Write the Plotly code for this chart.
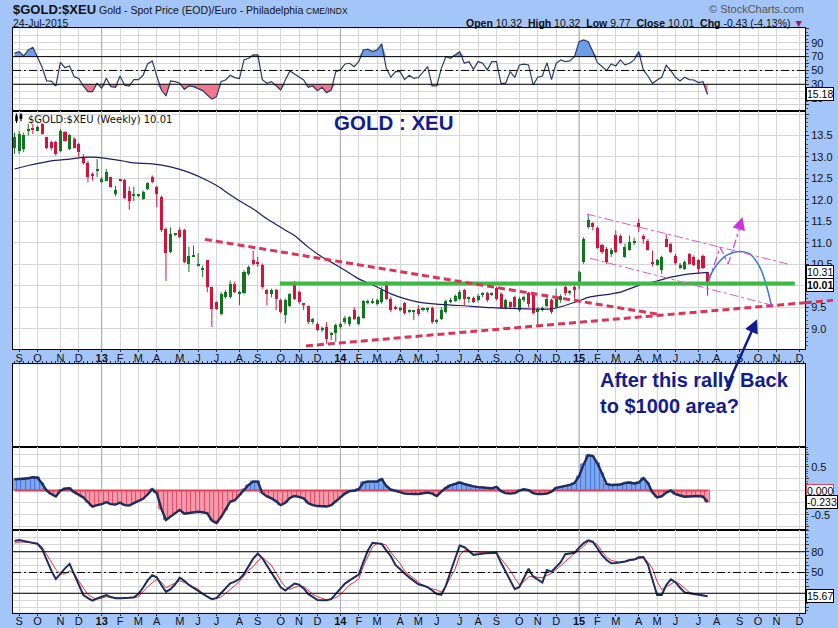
import pandas as pd
import plotly.graph_objects as go

# ---------------- data ----------------
open_ = [13.22,13.15,13.19,13.62,13.65,13.61,13.77,13.46,13.34,13.34,
13.15,13.57,13.19,13.42,13.30,12.99,12.87,12.57,12.68,12.41,
12.45,12.53,12.14,12.47,12.47,12.21,12.10,12.10,12.02,12.25,
12.54,12.29,12.06,11.33,10.78,11.20,11.30,11.29,10.51,10.69,
10.47,10.36,10.59,9.97,9.62,9.35,9.74,9.74,10.05,9.83,
9.83,10.28,10.59,10.55,10.49,9.89,9.80,9.89,9.66,9.31,
9.54,10.01,9.85,9.57,9.52,9.16,9.12,8.96,9.05,8.87,
8.90,9.03,9.16,9.12,9.43,9.12,9.26,9.60,9.62,9.58,
9.62,10.01,9.70,9.49,9.43,9.60,9.39,9.40,9.47,9.45,
9.45,9.49,9.17,9.23,9.39,9.62,9.65,9.70,9.91,9.70,
9.72,9.66,9.80,9.83,9.80,9.95,9.81,9.48,9.62,9.74,
9.43,9.66,9.83,9.81,9.39,9.43,9.54,9.66,9.50,9.66,
9.98,9.85,9.98,10.06,10.55,11.38,11.46,11.35,10.94,10.86,
10.73,11.19,11.15,10.67,10.84,11.00,11.45,11.15,11.05,10.53,
10.49,10.37,11.09,10.98,10.70,10.42,10.40,10.73,10.68,10.60,
10.70,10.32]
high = [13.57,13.61,13.57,13.77,13.77,13.73,13.79,13.47,13.38,13.38,
13.65,13.60,13.53,13.46,13.33,13.07,12.91,12.64,12.95,12.53,
12.72,12.54,12.33,12.49,12.49,12.31,12.31,12.14,12.22,12.41,
12.57,12.33,12.10,11.36,11.36,11.23,11.36,11.33,10.91,10.94,
10.76,10.47,10.60,9.98,9.63,9.85,9.90,10.12,10.10,9.89,
10.36,10.47,10.82,10.67,10.52,9.93,9.93,9.93,9.70,9.70,
9.83,10.11,9.89,9.60,9.54,9.25,9.15,9.05,9.15,8.92,
9.12,9.14,9.30,9.29,9.50,9.30,9.67,9.68,9.70,9.70,
9.98,10.11,9.74,9.54,9.51,9.62,9.45,9.43,9.55,9.50,
9.50,9.52,9.23,9.50,9.68,9.72,9.80,9.90,9.93,9.75,
9.75,9.81,9.85,9.86,9.85,9.98,9.85,9.70,9.64,9.77,
9.74,9.77,9.86,9.85,9.50,9.52,9.74,9.70,9.93,9.80,
10.01,9.90,10.03,10.35,11.13,11.66,11.48,11.38,10.98,10.90,
10.88,11.29,11.20,10.98,11.17,11.12,11.56,11.20,11.09,10.82,
10.63,10.70,11.20,11.00,10.74,10.53,10.59,10.76,10.71,10.63,
10.73,10.32]
low = [13.07,13.07,13.11,13.50,13.53,13.60,13.52,13.18,13.15,13.03,
13.11,13.36,13.16,13.20,12.99,12.82,12.41,12.45,12.53,12.39,
12.43,12.28,12.08,12.43,12.02,11.77,11.97,12.06,12.00,12.23,
12.39,11.83,11.25,10.11,10.76,11.16,11.11,10.53,10.32,10.67,
10.45,10.20,9.85,9.04,9.44,9.31,9.70,9.70,9.83,9.55,
9.80,10.24,10.47,10.44,9.93,9.54,9.73,9.43,9.35,9.13,
9.50,9.67,9.58,9.43,9.11,9.10,8.94,8.92,8.65,8.73,
8.69,9.00,9.10,9.05,9.20,9.08,9.23,9.56,9.58,9.54,
9.58,9.67,9.39,9.44,9.40,9.33,9.36,9.20,9.30,9.40,
9.38,9.11,9.12,9.20,9.35,9.60,9.62,9.66,9.54,9.60,
9.60,9.62,9.73,9.62,9.76,9.66,9.46,9.45,9.46,9.46,
9.39,9.62,9.50,9.33,9.08,9.40,9.50,9.35,9.46,9.60,
9.77,9.78,9.70,9.93,10.51,11.33,11.29,10.86,10.74,10.51,
10.67,10.76,10.98,10.65,10.82,10.95,11.25,10.98,10.82,10.45,
10.47,10.28,10.90,10.76,10.49,10.38,10.37,10.49,10.46,10.28,
10.39,9.77]
close = [13.46,13.53,13.50,13.65,13.64,13.69,13.53,13.21,13.21,13.07,
13.61,13.38,13.50,13.22,13.11,12.85,12.53,12.56,12.68,12.49,
12.64,12.29,12.23,12.46,12.05,11.97,12.10,12.11,12.18,12.39,
12.41,12.14,11.29,10.76,11.21,11.20,11.13,10.55,10.70,10.69,
10.47,10.42,9.97,9.46,9.46,9.81,9.85,10.05,9.85,9.83,
10.32,10.43,10.51,10.52,9.97,9.80,9.90,9.70,9.39,9.66,
9.81,9.70,9.62,9.56,9.15,9.22,8.98,9.02,8.77,8.87,
9.08,9.11,9.26,9.27,9.23,9.27,9.64,9.64,9.62,9.66,
9.89,9.70,9.43,9.48,9.49,9.37,9.42,9.40,9.35,9.47,
9.46,9.15,9.18,9.44,9.64,9.67,9.77,9.86,9.70,9.70,
9.62,9.77,9.80,9.66,9.83,9.70,9.49,9.66,9.50,9.50,
9.70,9.74,9.58,9.36,9.46,9.49,9.70,9.39,9.70,9.77,
9.83,9.86,9.91,10.32,11.09,11.52,11.36,10.88,10.78,10.55,
10.84,10.78,11.00,10.91,11.01,11.04,11.38,11.10,10.84,10.52,
10.60,10.67,10.91,10.78,10.53,10.49,10.55,10.51,10.49,10.39,
10.42,10.01]

rsi = [75,77,71,79.7,83.5,70,55,35,34.5,27.5,
61.8,54,56.5,41,38.5,27.5,19.3,19.3,31.4,24.2,
38.7,26.6,25.6,42,28.5,27.5,36.7,36.7,43,59.4,
63.8,42,21.7,13,34.8,33.8,31.4,22.7,27.5,26.6,
24.2,20.8,14.5,8.5,12,34,36.2,43,39.7,38.2,
65.2,67.6,72.4,72.4,36.7,31.4,33.8,27.5,21.7,36.2,
49.3,45,41.1,36.2,25.6,27.5,20.8,25.6,17.9,21.7,
48.3,50.8,59.4,60.4,55.6,62.8,79.7,80.7,77.3,79.7,
88.4,53.1,40.1,48.3,48.3,36.7,43,38.7,39.7,48,
55.6,27.5,27.5,53,70,67.6,73,77.3,60.4,62.8,
51.7,62.8,60.4,50.8,62.8,62.8,31.4,31.4,48.3,40.1,
58,59,58,29,40.1,42,61.3,36.7,60.4,65.2,
62.8,63.8,70,91.7,94.2,91.7,77.3,61.3,55.6,49.8,
59.4,56.5,65.2,58,60.4,65.2,77.3,50.8,42,31.4,
36.2,40.1,57.5,49.8,40.1,34.8,40.1,36.7,36.2,32.4,
33.8,15.18]

macd_hist = [0.24,0.24,0.25,0.26,0.28,0.27,0.15,0.0,-0.07,-0.12,
0.0,0.04,0.05,-0.03,-0.08,-0.14,-0.24,-0.33,-0.30,-0.28,
-0.24,-0.28,-0.29,-0.25,-0.30,-0.31,-0.26,-0.22,-0.17,-0.08,
0.03,-0.05,-0.38,-0.61,-0.54,-0.47,-0.40,-0.48,-0.47,-0.46,
-0.44,-0.45,-0.47,-0.62,-0.67,-0.55,-0.40,-0.23,-0.20,-0.10,
0.02,0.12,0.19,0.19,-0.05,-0.12,-0.16,-0.22,-0.30,-0.25,
-0.15,-0.11,-0.13,-0.16,-0.26,-0.30,-0.32,-0.33,-0.33,-0.30,
-0.22,-0.13,-0.06,-0.01,0.0,0.03,0.17,0.19,0.19,0.19,
0.24,0.10,0.02,0.0,-0.03,-0.06,-0.07,-0.07,-0.07,-0.05,
-0.04,-0.06,-0.11,-0.02,0.06,0.11,0.14,0.17,0.14,0.11,
0.09,0.075,0.07,0.06,0.05,0.08,-0.01,-0.05,-0.06,-0.05,
0.0,0.03,0.01,-0.05,-0.07,-0.07,-0.06,-0.02,0.06,0.08,
0.10,0.12,0.16,0.30,0.55,0.74,0.72,0.57,0.36,0.14,
0.12,0.12,0.13,0.16,0.17,0.15,0.17,0.26,0.16,-0.04,
-0.14,-0.12,-0.04,0.0,-0.07,-0.10,-0.125,-0.12,-0.11,-0.11,
-0.125,-0.233]

stoch_k = [95.5,96.9,95.5,94.2,93,91.5,84,68,53,40.5,
48.5,56,62.5,47,31,17.5,13,9.5,12.5,14.8,
17.5,14.5,12.8,12.8,12.8,13.5,14.3,19,28,38.5,
46,43,32,22,26,33,42.5,38,32,27.5,
23,19.5,15,11.5,13,20,27,34.4,36.7,40.5,
48,58.5,70,77.5,70.5,60,49.5,38.5,28.5,24,
29,34,32.5,27,19,14,10.2,9.8,10,11.5,
18.5,26,34,38.5,43,47,65,82,93,92,
91.2,82,73.5,61,54,48.5,43,37.5,33,31.3,
29,24,19,18,31,51,71,89,86.5,81,
75.5,76.5,77.5,78,78.3,78.7,64,52,38,26,
29,42,55.5,44,39.5,35.5,53.5,51.3,58,65,
76.5,77.5,78.5,86,92.5,96.5,94.7,85,75,68,
63.3,63.8,64.5,66,68,68.7,72,72.5,61.5,39,
17.6,17.6,32,40,36,28,21.3,20,19,18,
16.8,15.67]

stoch_d = [92.5,94,94,93.5,93,92.5,87,76,65,54.5,
47.9,47.9,52.5,48.5,37.5,27.5,18,14,11.5,13,
15,14,13.2,13.2,13.3,13.4,13.5,14.8,22,29.5,
35,40,36,28,31.5,35,38,35.5,32.3,29.5,
26,20,15.5,12,12.5,14.5,20,25,31,37,
45,53,58.5,66.5,72,66,60,49,38,29.5,
25.5,28.5,30.5,29.8,24,18.5,15,12.5,10.5,11.5,
13.8,18,25,32,36,40.5,59,73,87,92,
91.5,89.5,79,71,63,52,46.5,42,36,31,
28,26,24.8,21.5,31,43,55,75,82,81,
80,79.5,78.8,78.7,78.7,78,70,62,53,42,
32,37,43.5,45,43,42.5,45.5,48.8,54,60,
66,72.9,77.5,82,88,94.3,93.5,90.5,80,72,
67.5,65.5,64.3,65.5,67,68.5,70,71.5,65,56,
37,25.5,29.5,33,37,33,26.5,21.5,19.5,18,
17,16]

# 40-week moving average, read at selected bars (bar index, value)
ma_idx = [0,3,8,12,15,18,21,24,26,30,34,38,42,45,46,49,52,55,58,61,64,67,69,72,75,
          79,82,85,88,92,97,104,112,117,120,123,125,130,132,136,140,143,146,151]
ma_val = [12.72,12.80,12.91,12.95,12.99,12.99,12.95,12.90,12.86,12.84,12.77,12.64,12.45,
          12.27,12.19,11.98,11.79,11.56,11.36,11.17,10.90,10.67,10.55,10.36,10.16,
          9.97,9.81,9.70,9.62,9.57,9.54,9.49,9.46,9.46,9.54,9.65,9.73,9.81,9.85,10.01,
          10.11,10.20,10.26,10.31]

month_labels = ["S","O","N","D","13","F","M","A","M","J","J","A","S","O","N","D",
                "14","F","M","A","M","J","J","A","S","O","N","D",
                "15","F","M","A","M","J","J","A","S","O","N","D"]

# hand-drawn annotations on the price panel: (bar index, price)
trend_upper = [(41.5, 11.08), (140.6, 9.33)]
trend_lower = [(63.5, 8.60), (178.3, 9.66)]
support_line = [(57.8, 10.05), (170.0, 10.05)]
chan_upper = [(124.7, 11.67), (169.1, 10.49)]
chan_lower = [(125.4, 10.64), (165.3, 9.54)]
path_up_idx = [151.2, 153.7, 155.5, 158.6]
path_up_val = [10.08, 10.90, 10.51, 11.55]
curve_idx = [151.2, 152.9, 155.0, 158.1, 160.2, 162.4, 163.9, 164.9]
curve_val = [10.16, 10.47, 10.70, 10.80, 10.74, 10.43, 9.97, 9.54]

# ---------------- geometry ----------------
W, H = 838, 628
ML, MR = 13, 33
PW = W - ML - MR
FONT = "Arial, Liberation Sans, sans-serif"
GRID = "#d6d6d6"
YEARGRID = "#a8a8a8"
BG = "#a3c5f8"
NAVY = "#141c8c"
GREEN = "#127520"
RED = "#d4143c"

def px_x(px):
    return (px - ML) / PW

def px_y(py):
    return 1 - py / H

n = len(close)
start = pd.Timestamp("2012-08-27")
dates = pd.date_range(start, periods=n, freq="7D")
WEEK_MS = 7 * 24 * 3600 * 1000

def wk(i):
    return str(start + pd.Timedelta(days=7 * i))

XR = ["2012-08-24 17:00", "2015-12-15 14:00"]
mondays = pd.date_range("2012-09-01", "2015-12-31", freq="W-MON")
tick_dates = pd.Series(mondays).groupby(mondays.to_period("M")).first().tolist()
ticktext = ["<b>%s</b>" % t if t.isdigit() else t for t in month_labels]
year_dates = [d for d in tick_dates if d.month == 1]

dom_rsi = [px_y(111), px_y(28.3)]
dom_main = [px_y(349.3), px_y(111)]
dom_blank = [px_y(447.3), px_y(364.3)]
dom_macd = [px_y(530.3), px_y(447.3)]
dom_stoch = [px_y(612.7), px_y(530.3)]
R_RSI = [-8.7, 111]
R_MAIN = [8.52, 14.07]
R_BLANK = [0, 1]
R_MACD = [-0.825, 0.904]
R_STO = [-8.1, 111]

fig = go.Figure()

# darker year separators (drawn first, under the data)
for k, rng in ((1, R_RSI), (2, R_MAIN), (3, R_BLANK), (4, R_MACD), (5, R_STO)):
    yx, yy = [], []
    for d in year_dates:
        yx += [d, d, None]
        yy += [rng[0], rng[1], None]
    fig.add_trace(go.Scatter(x=yx, y=yy, mode="lines", line=dict(color=YEARGRID, width=1),
                             xaxis="x" if k == 1 else "x%d" % k,
                             yaxis="y" if k == 1 else "y%d" % k, hoverinfo="skip"))

# ---------------- RSI panel ----------------
fig.add_trace(go.Scatter(x=dates, y=[70] * n, mode="lines", line=dict(width=0),
                         xaxis="x", yaxis="y", hoverinfo="skip"))
fig.add_trace(go.Scatter(x=dates, y=[max(v, 70) for v in rsi], mode="lines",
                         line=dict(width=0), fill="tonexty", fillcolor="#6f9de8",
                         xaxis="x", yaxis="y", hoverinfo="skip"))
fig.add_trace(go.Scatter(x=dates, y=[30] * n, mode="lines", line=dict(width=0),
                         xaxis="x", yaxis="y", hoverinfo="skip"))
fig.add_trace(go.Scatter(x=dates, y=[min(v, 30) for v in rsi], mode="lines",
                         line=dict(width=0), fill="tonexty", fillcolor="#f07890",
                         xaxis="x", yaxis="y", hoverinfo="skip"))
fig.add_trace(go.Scatter(x=dates, y=rsi, mode="lines", line=dict(color="#2a3c62", width=1.2),
                         xaxis="x", yaxis="y"))

# ---------------- price panel ----------------
BW = 0.66 * WEEK_MS
for up, col in ((True, GREEN), (False, RED)):
    idx = [i for i in range(n) if (close[i] >= open_[i]) == up]
    fig.add_trace(go.Bar(
        x=[dates[i] for i in idx],
        y=[max(abs(close[i] - open_[i]), 0.025) for i in idx],
        base=[min(close[i], open_[i]) for i in idx],
        width=BW, marker=dict(color=col, line=dict(width=0)),
        xaxis="x2", yaxis="y2", hoverinfo="skip"))
    wx, wy = [], []
    for i in idx:
        wx += [dates[i], dates[i], None]
        wy += [low[i], high[i], None]
    fig.add_trace(go.Scatter(x=wx, y=wy, mode="lines", line=dict(color=col, width=1),
                             xaxis="x2", yaxis="y2", hoverinfo="skip"))

fig.add_trace(go.Scatter(x=[dates[i] for i in ma_idx], y=ma_val, mode="lines",
                         line=dict(color="#1e1e62", width=1.2, shape="spline", smoothing=0.6),
                         xaxis="x2", yaxis="y2"))
fig.add_trace(go.Scatter(x=[wk(i) for i in path_up_idx], y=path_up_val, mode="lines",
                         line=dict(color="#d040e0", width=1.2, dash="dashdot"),
                         xaxis="x2", yaxis="y2"))
fig.add_trace(go.Scatter(x=[wk(i) for i in curve_idx], y=curve_val, mode="lines",
                         line=dict(color="#3a78c8", width=1.5, shape="spline"),
                         xaxis="x2", yaxis="y2"))

# blank panel placeholder
fig.add_trace(go.Scatter(x=[dates[0]], y=[0.5], mode="markers", marker=dict(opacity=0),
                         xaxis="x3", yaxis="y3", hoverinfo="skip"))

# ---------------- MACD histogram ----------------
fig.add_trace(go.Bar(
    x=dates, y=macd_hist, width=WEEK_MS,
    marker=dict(color=["#7ea8ee" if v >= 0 else "#f59aab" for v in macd_hist],
                line=dict(color=["#3d6fd6" if v >= 0 else "#e0405a" for v in macd_hist], width=0.8)),
    xaxis="x4", yaxis="y4", hoverinfo="skip"))
fig.add_trace(go.Scatter(x=[dates[0], dates[-1]], y=[0, 0], mode="lines",
                         line=dict(color="#e0405a", width=1.5), xaxis="x4", yaxis="y4"))
fig.add_trace(go.Scatter(x=dates, y=macd_hist, mode="lines",
                         line=dict(color="#1e2c5a", width=2.4), xaxis="x4", yaxis="y4"))

# ---------------- Stochastics ----------------
fig.add_trace(go.Scatter(x=dates, y=stoch_d, mode="lines", line=dict(color="#e03048", width=1),
                         xaxis="x5", yaxis="y5"))
fig.add_trace(go.Scatter(x=dates, y=stoch_k, mode="lines", line=dict(color="#1e2c5a", width=2),
                         xaxis="x5", yaxis="y5"))

# ---------------- axes ----------------
axis_font = dict(family=FONT, size=11, color="#111")

def xax(k, labels=False, side="bottom", minor_ticks=False):
    d = dict(type="date", range=XR, domain=[0, 1], anchor="y" if k == 1 else "y%d" % k,
             tickmode="array", tickvals=tick_dates, ticktext=ticktext,
             showgrid=True, gridcolor=GRID, gridwidth=1,
             showline=True, mirror=True, linecolor="black", linewidth=1, zeroline=False,
             showticklabels=labels, ticks="outside" if labels else "", ticklen=2,
             tickcolor="#333", tickfont=axis_font, side=side, fixedrange=True,
             automargin=False)
    if labels:
        d["ticklabelstandoff"] = -4
    if minor_ticks:
        d["minor"] = dict(ticks="outside", ticklen=2, tickcolor="#333",
                          dtick=WEEK_MS, tick0="2012-08-27", showgrid=False)
    return d

def yax(k, rng, dom, tickvals, ticktext_, minor_dtick=None, grid=True):
    d = dict(range=rng, domain=dom, anchor="x" if k == 1 else "x%d" % k, side="right",
             tickmode="array", tickvals=tickvals, ticktext=ticktext_,
             showgrid=grid, gridcolor=GRID, gridwidth=1,
             showline=True, mirror=True, linecolor="black", linewidth=1, zeroline=False,
             ticks="outside" if tickvals else "", ticklen=3, tickcolor="#333",
             tickfont=axis_font, fixedrange=True, automargin=False)
    if minor_dtick:
        d["minor"] = dict(ticks="outside", ticklen=2, tickcolor="#555",
                          dtick=minor_dtick, showgrid=False)
    return d

rsi_tv = list(range(0, 111, 10))
rsi_tt = [str(v) if v in (10, 30, 50, 70, 90) else "" for v in rsi_tv]
main_tv = [9.0 + 0.5 * k for k in range(11)]
main_tt = ["%.1f" % v if v <= 13.5 else "" for v in main_tv]
macd_tv = [-0.75, -0.5, -0.25, 0, 0.25, 0.5, 0.75]
macd_tt = ["", "-0.5", "", "", "", "0.5", ""]
sto_tv = list(range(0, 111, 10))
sto_tt = [str(v) if v in (20, 50, 80) else "" for v in sto_tv]

layout = dict(
    width=W, height=H, autosize=False,
    margin=dict(l=ML, r=MR, t=0, b=0, pad=0, autoexpand=False),
    paper_bgcolor=BG, plot_bgcolor="white",
    showlegend=False, hovermode=False, barmode="overlay", bargap=0,
    font=dict(family=FONT, size=11, color="#111"),
    xaxis=xax(1), xaxis2=xax(2, labels=True), xaxis3=xax(3, side="top", minor_ticks=True),
    xaxis4=xax(4), xaxis5=xax(5, labels=True),
    yaxis=yax(1, R_RSI, dom_rsi, rsi_tv, rsi_tt, 5),
    yaxis2=yax(2, R_MAIN, dom_main, main_tv, main_tt, 0.1),
    yaxis3=yax(3, R_BLANK, dom_blank, [], [], None, grid=False),
    yaxis4=yax(4, R_MACD, dom_macd, macd_tv, macd_tt, 0.05),
    yaxis5=yax(5, R_STO, dom_stoch, sto_tv, sto_tt, 5),
)
fig.update_layout(**layout)

# ---------------- shapes ----------------
shapes = []
def hline(yref, val, dash="solid"):
    return dict(type="line", xref="paper", x0=0, x1=1, yref=yref, y0=val, y1=val,
                line=dict(color="black", width=1, dash=dash), layer="above")

DASHDOT = "8px,3px,2px,3px"
shapes += [hline("y", 70), hline("y", 30), hline("y", 50, DASHDOT)]
shapes += [hline("y5", 80), hline("y5", 20), hline("y5", 50, DASHDOT)]

def seg(pts, color, width, dash):
    (i0, v0), (i1, v1) = pts
    return dict(type="line", xref="x2", yref="y2", x0=wk(i0), y0=v0, x1=wk(i1), y1=v1,
                line=dict(color=color, width=width, dash=dash), layer="above")

shapes.append(seg(support_line, "#3cb944", 4, "solid"))
shapes.append(seg(trend_upper, "#dc3458", 3, "7px,4px"))
shapes.append(seg(trend_lower, "#dc3458", 3, "7px,4px"))
shapes.append(seg(chan_upper, "#dc55dc", 1, "dashdot"))
shapes.append(seg(chan_lower, "#dc55dc", 1, "dashdot"))

# part of the lower trend line drawn beyond the right edge of the plot
def main_paper(v):
    return dom_main[0] + (v - R_MAIN[0]) / (R_MAIN[1] - R_MAIN[0]) * (dom_main[1] - dom_main[0])
edge_idx = (805 - 14.5) / 4.59
(li0, lv0), (li1, lv1) = trend_lower
v_edge = lv0 + (edge_idx - li0) * (lv1 - lv0) / (li1 - li0)
shapes.append(dict(type="line", xref="paper", yref="paper", x0=1.0, x1=px_x(833),
                   y0=main_paper(v_edge), y1=main_paper(lv1),
                   line=dict(color="#dc3458", width=3, dash="7px,4px"), layer="above"))

# small candle icon before the price legend
for cx, y0, y1, b0, b1 in ((16.5, 113.5, 123, 115.5, 121), (21, 113, 121.5, 114.5, 119)):
    shapes.append(dict(type="line", xref="paper", yref="paper", x0=px_x(cx), x1=px_x(cx),
                       y0=px_y(y0), y1=px_y(y1), line=dict(color="black", width=1)))
    shapes.append(dict(type="rect", xref="paper", yref="paper", x0=px_x(cx - 1.3), x1=px_x(cx + 1.3),
                       y0=px_y(b0), y1=px_y(b1), line=dict(width=0), fillcolor="black"))

fig.update_layout(shapes=shapes)

# ---------------- text ----------------
def note(text, px, py, size=11, color="#111", xanchor="left", family=FONT):
    return dict(text=text, x=px_x(px), y=px_y(py), xref="paper", yref="paper",
                xanchor=xanchor, yanchor="middle", showarrow=False,
                font=dict(family=family, size=size, color=color))

def vbox(text, yref, val, bold=False, border="black"):
    return dict(text="<b>%s</b>" % text if bold else text, x=1, xref="paper", xanchor="left",
                xshift=1, y=val, yref=yref, yanchor="middle", showarrow=False,
                bgcolor="white", bordercolor=border, borderwidth=1, borderpad=0,
                font=dict(family=FONT, size=10.5, color="black"))

ann = [
    note("<b>$GOLD:$XEU</b>", 11, 10, size=13),
    note("Gold - Spot Price (EOD)/Euro - Philadelphia", 97, 10, size=10.5),
    note("CME/INDX", 304, 10.5, size=8.5),
    note("24-Jul-2015", 11, 23, size=10.5),
    note("© StockCharts.com", 806, 9, size=11, color="#555", xanchor="right"),
    note("<b>Open</b> 10.32  <b>High</b> 10.32  <b>Low</b> 9.77  <b>Close</b> 10.01  "
         "<b>Chg</b> -0.43 (-4.13%) <span style='color:#a0185a'>▼</span>",
         806, 23, size=10.5, xanchor="right"),
    note("$GOLD:$XEU (Weekly) 10.01", 26, 119, size=10, family="DejaVu Sans, Verdana, sans-serif"),
    note("<b>GOLD : XEU</b>", 332, 122, size=20.5, color=NAVY),
    note("<b>After this rally Back</b>", 598, 380, size=20, color=NAVY),
    note("<b>to $1000 area?</b>", 598, 406, size=20, color=NAVY),
    vbox("15.18", "y", 15.18),
    vbox("10.31", "y2", 10.31),
    vbox("10.01", "y2", 10.01, bold=True),
    vbox("0.000", "y4", 0.0, border="#e0405a"),
    vbox("-0.233", "y4", -0.233),
    vbox("15.67", "y5", 15.67),
    dict(x=wk(161.8), y=9.22, xref="x2", yref="y2", text="", showarrow=True,
         ax=-31, ay=69, arrowhead=2, arrowsize=1.1, arrowwidth=2.5, arrowcolor=NAVY),
    dict(x=wk(path_up_idx[-1]), y=path_up_val[-1] + 0.05, xref="x2", yref="y2", text="",
         showarrow=True, ax=-3, ay=10, arrowhead=2, arrowsize=1.7, arrowwidth=1.5,
         arrowcolor="#cc33dd"),
]
fig.update_layout(annotations=ann)

# the page body gets no default margin, so the figure sits at the window's top-left corner
fig.write_html("out.html", config={"displayModeBar": False},
               post_script="document.body.style.margin='0';")
